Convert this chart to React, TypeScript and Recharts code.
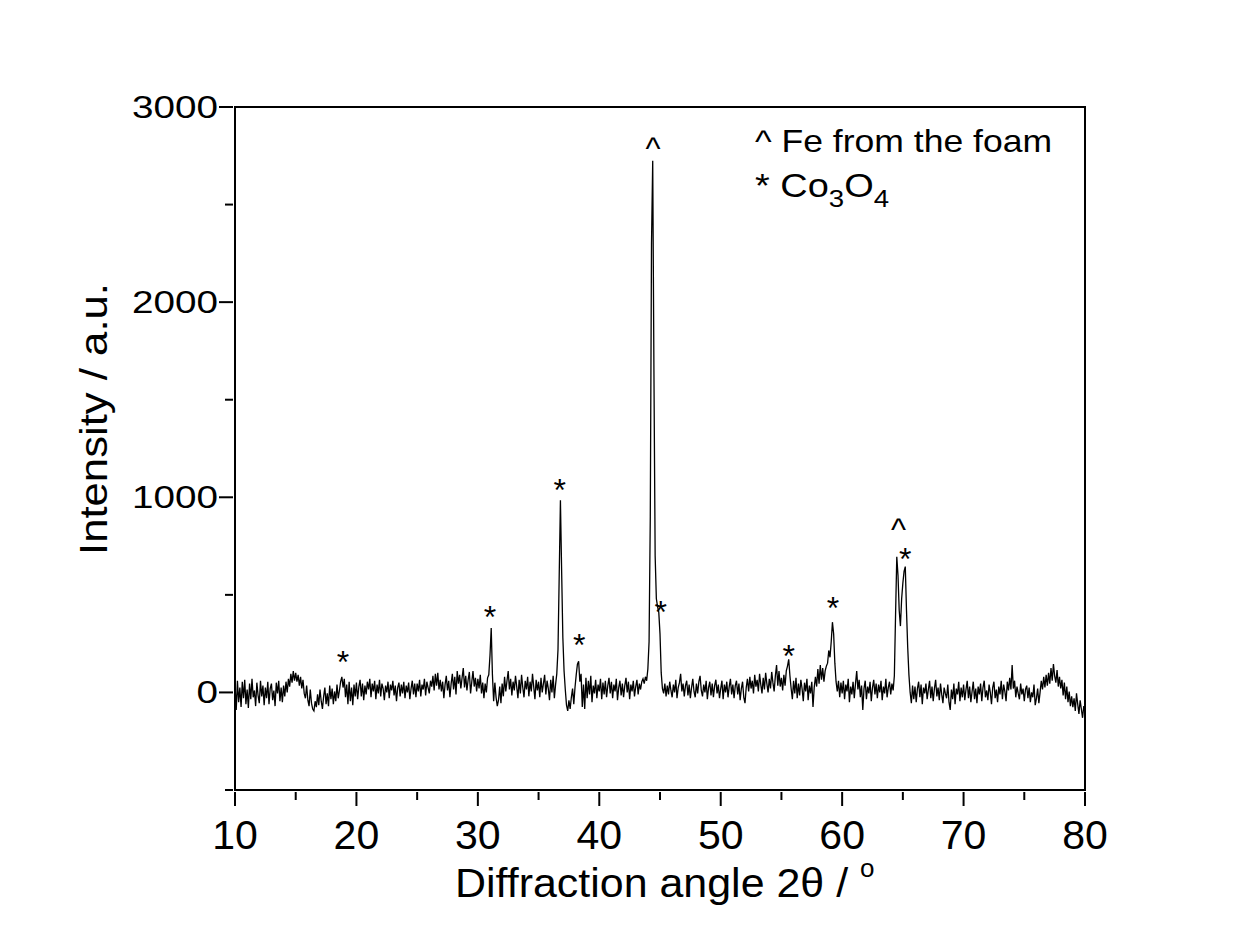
import React from 'react';
import { LineChart, Line, XAxis, YAxis, ReferenceArea, ReferenceDot } from 'recharts';

// scan grid of the diffractometer
const scanStart = 10;
const scanStep = 0.1;

// intensity, one row per degree (x.0 ... x.9)
const counts10to25 = [
  40, -90, 60, -50, 25, -75, 55, -30, 65, -60,
  15, -80, 45, -35, 70, -25, 10, -70, 50, -15,
  -55, 60, -20, 35, -65, 25, -30, 55, -60, 20,
  45, -40, 10, -70, 50, -5, 60, -45, 25, -50,
  35, -20, 55, 0, 70, 30, 95, 50, 110, 60,
  100, 55, 90, 35, 80, 20, 65, -5, -30, 35,
  -40, -70, 15, -55, -85, -95, -45, -75, -10, -65,
  15, -45, -85, -20, 25, -60, -5, -70, 35, -35,
  20, -60, 5, -45, 40, -30, 10, 55, 80, 25,
  70, -25, 40, -60, 55, -45, 25, -65, 40, -20,
  50, -35, 30, 65, -20, 45, -40, 35, -10, 55,
  15, 70, -25, 45, 5, 60, -35, 40, -5, 65,
  -20, 45, 20, -40, 35, 0, 55, -30, 40, 10,
  60, -15, 35, -45, 25, 50, -20, 40, -5, 55,
  -30, 35, 0, 50, -35, 20, 60, -10, 45, -25,
];

const counts25to40 = [
  45, 5, 65, -20, 40, 15, 70, -15, 55, 25,
  -5, 60, 30, 85, 10, 95, 35, 100, 15, 65,
  5, 55, -30, 40, 85, 10, 60, -25, 45, 95,
  15, 80, -10, 110, 45, 90, 20, 75, 125, 25,
  85, 10, 65, 105, -5, 55, 110, 30, 75, 5,
  70, 20, 90, -5, 50, -30, 45, 0, 75, 90,
  190, 330, 90, -45, 50, -25, -70, -40, 30, -55,
  45, -20, 80, 5, 60, 110, 15, 70, -15, 55,
  10, 85, 30, -30, 65, -5, 90, 25, -25, 60,
  15, 80, -20, 55, 5, 95, 30, -35, 65, 10,
  55, -25, 75, 0, 45, 90, -10, 60, 20, -40,
  65, 0, 85, -30, 40, 95, 220, 600, 985, 620,
  280, 110, 15, -65, -95, -40, -85, -25, 20, -60,
  25, 90, 145, 160, 55, 95, -75, 40, -85, 75,
  -30, 60, -10, 85, -50, 35, -5, 65, -30, 40,
];

const counts40to55 = [
  5, 70, -35, 50, -10, 60, -25, 35, 75, -5,
  55, -30, 40, 5, 70, -40, 25, 60, -15, 45,
  -25, 35, 75, 0, 55, -35, 40, 5, 60, -20,
  30, 65, -10, 45, 15, 55, 70, 45, 80, 60,
  120, 260, 900, 2300, 2725, 1650, 700, 480, 440, 410,
  300, 100, 20, -5, 45, -20, 35, -10, 55, 10,
  -25, 40, 0, 65, -30, 25, 50, 95, 5, 45,
  -20, 35, 60, -15, 40, -30, 25, 70, 5, -25,
  45, -5, 55, 85, 10, -20, 40, 0, 60, -35,
  25, 55, -15, 45, -25, 35, 65, -5, 40, -30,
  20, 60, -35, 40, 0, 55, -25, 30, 70, -10,
  40, -30, 35, 60, -10, 45, -40, 20, 55, -25,
  -55, 25, 70, 5, 80, 20, 60, -5, 90, 30,
  65, 5, 95, 40, -5, 75, 15, 100, 45, 0,
  70, 20, 105, 50, 5, 85, 140, 35, 110, 30,
];

const counts55to70 = [
  75, 10, 90, 35, 110, 135, 170, 85, 20, -35,
  60, -5, 75, -30, 45, -15, 65, 20, -45, 50,
  5, 70, -40, 35, -5, 55, -75, 25, 80, 30,
  120, 45, 140, 65, 125, 55, 110, 135, 150, 215,
  180, 260, 360, 300, 150, 55, 5, 60, -25, 50,
  -5, 60, -35, 40, 5, 70, -50, 30, -10, 55,
  -30, 45, 110, 15, 65, -25, 35, -90, 20, 60,
  -35, 30, -5, 55, -45, 25, 65, -10, 45, -30,
  40, 0, 60, -40, 30, -5, 70, -25, 25, 55,
  -10, 45, 10, 85, 400, 695, 600, 420, 340, 480,
  560, 620, 645, 420, 230, 90, 0, -55, 35, -35,
  30, -50, 20, 55, -25, 40, -60, 25, -5, 45,
  -35, 15, 60, -30, 30, -45, 20, 65, -20, 25,
  -40, 45, -10, -55, 25, -5, -30, 40, -50, -90,
  15, -35, 45, -60, 20, -10, 55, -45, 25, -25,
];

const counts70to80 = [
  40, -40, 15, 60, -30, 30, -50, 5, 55, -35,
  20, -55, 30, -10, 45, -45, 25, 60, -25, 10,
  -40, 40, 0, -60, 25, 55, -30, 15, -50, 30,
  -10, 60, -35, 40, 5, -45, 55, 10, 75, 15,
  140, 20, 60, -25, 30, -5, -35, 45, -10, 20,
  -45, 15, 35, -30, 25, -50, 0, -25, 40, -65,
  -30, 20, -55, 0, 60, 15, 80, 25, 90, 35,
  100, 45, 125, 60, 145, 85, 50, 115, 30, 80,
  20, 65, -15, 50, -35, 30, -50, 5, -70, -20,
  -75, -30, -95, -5, -60, -110, -40, -85, -130, -70,
  -95,
];

// peak markers: angle, height of the marker, symbol
const markerAngles = [18.9, 31.0, 36.75, 38.35, 45.05, 55.6, 59.25, 65.2, 44.42, 64.65];
const markerHeights = [184, 414, 1064, 271, 440, 210, 460, 708, 2813, 862];
const markerSymbols = ['*', '*', '*', '*', '*', '*', '*', '*', '^', '^'];

const xTicks = [10, 15, 20, 25, 30, 35, 40, 45, 50, 55, 60, 65, 70, 75, 80];
const yTicks = [-500, 0, 500, 1000, 1500, 2000, 2500, 3000];

const font = '"Liberation Sans", Arial, sans-serif';

const counts = [...counts10to25, ...counts25to40, ...counts40to55, ...counts55to70, ...counts70to80];
const data = counts.map((c, i) => ({
  angle: Math.round((scanStart + i * scanStep) * 10) / 10,
  intensity: c,
}));

const YTick = (props: any) => {
  const { x, y, payload } = props;
  const major = payload.value % 1000 === 0;
  const label = String(payload.value);
  return (
    <g>
      <line x1={x - (major ? 14 : 8)} x2={x} y1={y} y2={y} stroke="#000" strokeWidth={2} />
      {major && (
        <text
          x={x - 15}
          y={y + 11}
          textAnchor="end"
          fontFamily={font}
          fontSize={32}
          fill="#000"
          textLength={label.length * 21.5}
          lengthAdjust="spacingAndGlyphs"
        >
          {label}
        </text>
      )}
    </g>
  );
};

const XTick = (props: any) => {
  const { x, y, payload } = props;
  const major = payload.value % 10 === 0;
  return (
    <g>
      <line x1={x} x2={x} y1={y} y2={y + (major ? 14 : 8)} stroke="#000" strokeWidth={2} />
      {major && (
        <text x={x} y={y + 57} textAnchor="middle" fontFamily={font} fontSize={41} fill="#000">
          {payload.value}
        </text>
      )}
    </g>
  );
};

const Marker = (symbol: string) => (props: any) => {
  const { cx, cy } = props;
  return (
    <text x={cx} y={cy + 16} textAnchor="middle" fontFamily={font} fontSize={32} fill="#000">
      {symbol}
    </text>
  );
};

export default function App() {
  return (
    <div style={{ position: 'absolute', left: 0, top: 0, width: 1254, height: 943, background: '#fff' }}>
      <LineChart
        width={1254}
        height={943}
        data={data}
        margin={{ top: 107, right: 169, bottom: 73, left: 155 }}
      >
        <XAxis
          dataKey="angle"
          type="number"
          domain={[10, 80]}
          ticks={xTicks}
          tick={<XTick />}
          tickLine={false}
          tickSize={0}
          height={80}
          axisLine={{ stroke: '#000', strokeWidth: 2 }}
          allowDataOverflow
        />
        <YAxis
          type="number"
          domain={[-500, 3000]}
          ticks={yTicks}
          tick={<YTick />}
          tickLine={false}
          tickSize={0}
          width={80}
          axisLine={{ stroke: '#000', strokeWidth: 2 }}
          allowDataOverflow
        />
        <ReferenceArea x1={10} x2={80} y1={-500} y2={3000} fill="none" stroke="#000" strokeWidth={2} />
        <Line
          type="linear"
          dataKey="intensity"
          stroke="#000"
          strokeWidth={1.3}
          dot={false}
          isAnimationActive={false}
        />
        {markerAngles.map((a, i) => (
          <ReferenceDot
            key={i}
            x={a}
            y={markerHeights[i]}
            r={0}
            shape={Marker(markerSymbols[i])}
          />
        ))}
      </LineChart>
      <svg
        width={1254}
        height={943}
        style={{ position: 'absolute', left: 0, top: 0, pointerEvents: 'none' }}
      >
        <text
          x={107}
          y={419}
          transform="rotate(-90 107 419)"
          textAnchor="middle"
          fontFamily={font}
          fontSize={38}
          textLength={272}
          lengthAdjust="spacingAndGlyphs"
        >
          Intensity / a.u.
        </text>
        <text x={455} y={897} fontFamily={font} fontSize={40}>
          <tspan textLength={405} lengthAdjust="spacingAndGlyphs">Diffraction angle 2θ / </tspan>
          <tspan fontSize={26} dy={-20}>o</tspan>
        </text>
        <text x={755} y={152} fontFamily={font} fontSize={32} textLength={297} lengthAdjust="spacingAndGlyphs">
          ^ Fe from the foam
        </text>
        <g transform="translate(755 197) scale(1.15 1)">
          <text x={0} y={0} fontFamily={font} fontSize={33}>
            <tspan>* Co</tspan>
            <tspan fontSize={24} dy={10}>3</tspan>
            <tspan dy={-10}>O</tspan>
            <tspan fontSize={24} dy={10}>4</tspan>
          </text>
        </g>
      </svg>
    </div>
  );
}
